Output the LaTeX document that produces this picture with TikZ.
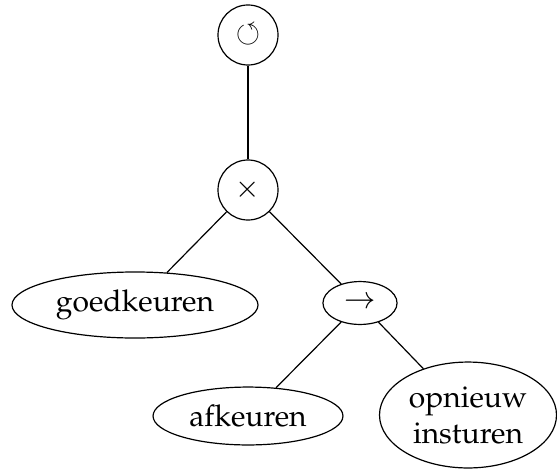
\documentclass[tikz,border=0pt]{standalone}
\usepackage[T1]{fontenc}
\usepackage{amssymb}
\usepackage{mathpazo}
\usetikzlibrary{shapes.geometric}
\begin{document}
\begin{tikzpicture}[x=0.3333pt,y=-0.3333pt,
  op/.style={draw,ellipse,inner sep=0pt,line width=0.4pt},
  act/.style={draw,ellipse,inner sep=0pt,line width=0.4pt,align=center},
  edge/.style={line width=0.4pt}]
  \useasboundingbox (0,0) rectangle (557,468);
  % process tree: loop over a choice, second branch a sequence
  \node[op,minimum width=20pt,minimum height=20pt] (loop) at (248,35) {$\circlearrowleft$};
  \node[op,minimum width=20pt,minimum height=20pt] (xor) at (248,190) {$\times$};
  \node[act,minimum width=82pt,minimum height=22pt] (good) at (135,305) {goedkeuren};
  \node[op,minimum width=24.7pt,minimum height=14.3pt] (seq) at (360,303) {$\rightarrow$};
  \node[act,minimum width=63.3pt,minimum height=19.3pt] (bad) at (248,416) {afkeuren};
  \node[act,minimum width=59pt,minimum height=35.3pt] (again) at (468,415) {opnieuw\\insturen};
  \draw[edge] (loop) -- (xor);
  \draw[edge] (xor) -- (good);
  \draw[edge] (xor) -- (seq);
  \draw[edge] (seq) -- (bad);
  \draw[edge] (seq) -- (again);
\end{tikzpicture}
\end{document}
